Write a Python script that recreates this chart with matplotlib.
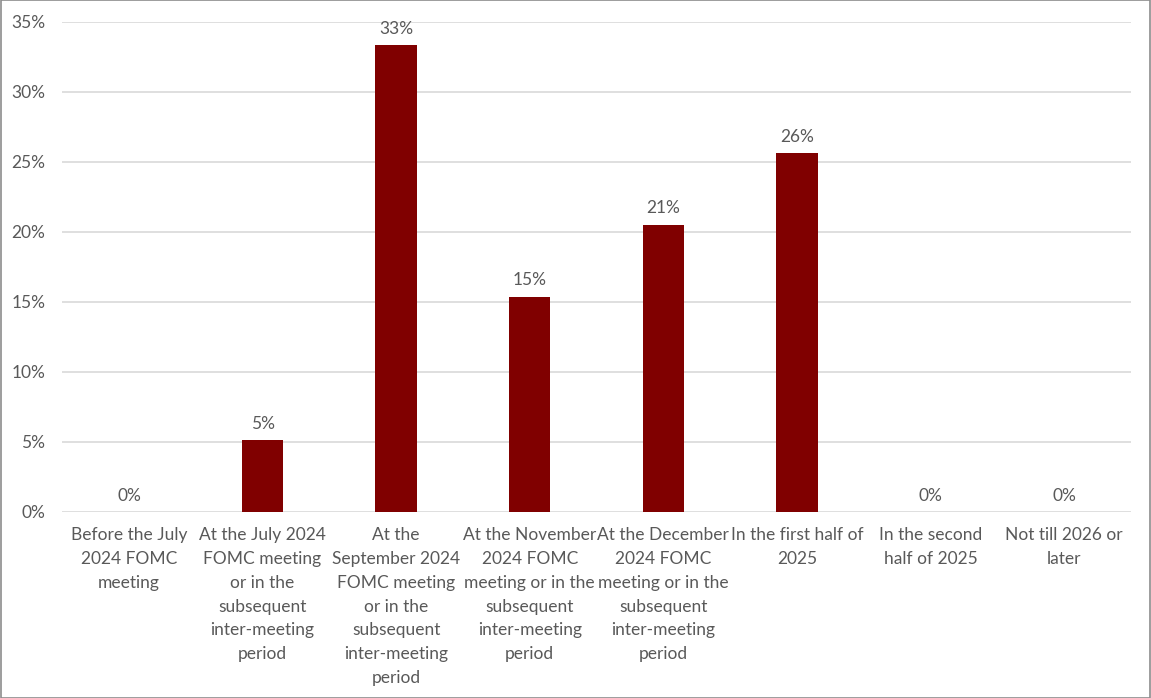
import matplotlib.pyplot as plt
import numpy as np

# Share of respondents (n = 39) for each timing of the first rate cut
categories = [
    "Before the July\n2024 FOMC\nmeeting",
    "At the July 2024\nFOMC meeting\nor in the\nsubsequent\ninter-meeting\nperiod",
    "At the\nSeptember 2024\nFOMC meeting\nor in the\nsubsequent\ninter-meeting\nperiod",
    "At the November\n2024 FOMC\nmeeting or in the\nsubsequent\ninter-meeting\nperiod",
    "At the December\n2024 FOMC\nmeeting or in the\nsubsequent\ninter-meeting\nperiod",
    "In the first half of\n2025",
    "In the second\nhalf of 2025",
    "Not till 2026 or\nlater",
]
counts = [0, 2, 13, 6, 8, 10, 0, 0]
total = 39
shares = [100 * c / total for c in counts]
yticks = [0, 5, 10, 15, 20, 25, 30, 35]

TEXT = "#595959"
BAR = "#800000"
GRID = "#d9d9d9"
FS = 12.5

plt.rcParams["font.family"] = ["Lato", "DejaVu Sans"]

fig = plt.figure(figsize=(11.51, 6.98), dpi=100)
ax = fig.add_axes([0.054, 0.2665, 0.9286, 0.702])

x = np.arange(len(categories))
bars = ax.bar(x, shares, width=0.31, color=BAR, zorder=3)

for xi, v in zip(x, shares):
    ax.annotate(f"{v:.0f}%", (xi, v), xytext=(0, 6), textcoords="offset points",
                ha="center", va="bottom", fontsize=FS, color=TEXT)

ax.set_xlim(-0.5, len(categories) - 0.5)
ax.set_ylim(0, 35)
ax.set_yticks(yticks)
ax.set_yticklabels([f"{t}%" for t in yticks])
ax.set_xticks(x)
ax.set_xticklabels(categories, linespacing=1.6)

ax.tick_params(axis="both", length=0, labelsize=FS, labelcolor=TEXT)
ax.tick_params(axis="x", pad=11)
ax.tick_params(axis="y", pad=12)
ax.grid(axis="y", color=GRID, linewidth=1.2, zorder=0)
for s in ax.spines.values():
    s.set_visible(False)

# thin frame round the whole chart
fig.patches.append(plt.Rectangle((0.0005, 0.0005), 0.999, 0.999, transform=fig.transFigure,
                                 fill=False, edgecolor="#8c8c8c", linewidth=1.2))

fig.savefig("out.png", dpi=100)
